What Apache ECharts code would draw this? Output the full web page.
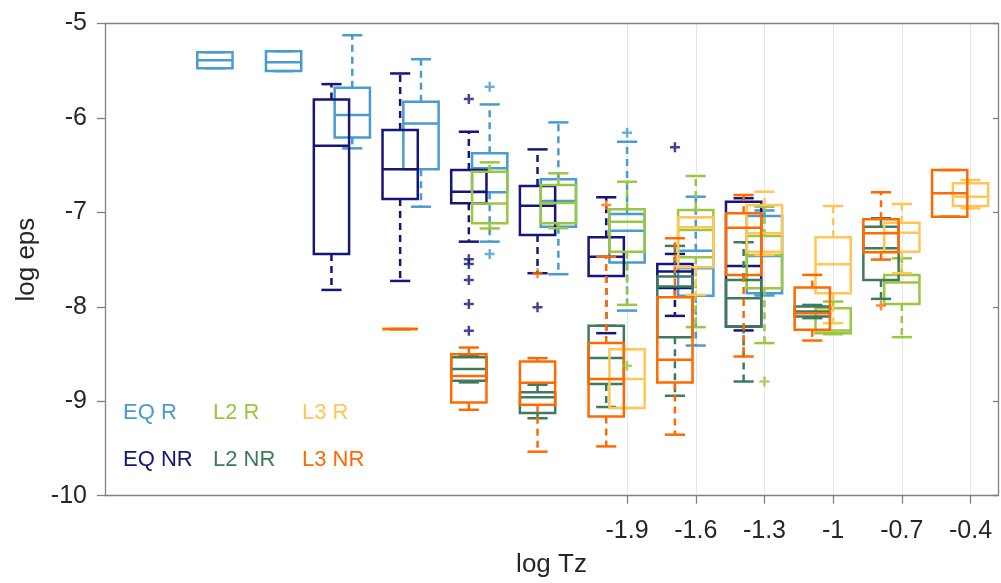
<!DOCTYPE html>
<html><head><meta charset="utf-8">
<script src="https://cdn.jsdelivr.net/npm/echarts@6/dist/echarts.min.js"></script>
<style>html,body{margin:0;padding:0;background:#fff}#c{width:1001px;height:583px}</style>
</head><body><div id="c"></div>
<script>
// log Tz bin centres (R boxes sit on these, NR boxes just left of them)
const logTz = [-3.7, -3.4, -3.1, -2.8, -2.5, -2.2, -1.9, -1.6, -1.3, -1.0, -0.7, -0.4];
const xTickLabels = [-1.9, -1.6, -1.3, -1, -0.7, -0.4];
const yTickLabels = [-10, -9, -8, -7, -6, -5];

// box statistics per bin: [low whisker, q1, median, q3, high whisker]
const eqR = [
  [-5.473, -5.473, -5.388, -5.304, -5.304],
  [-5.504, -5.504, -5.409, -5.293, -5.293],
  [-6.322, -6.206, -5.970, -5.681, -5.124],
  [-6.940, -6.544, -6.058, -5.829, -5.378],
  [-7.310, -6.787, -6.534, -6.375, -5.857],
  [-7.655, -7.151, -6.879, -6.650, -6.047],
  [-8.040, -7.532, -7.194, -7.017, -6.252],
  [-8.410, -7.884, -7.591, -7.405, -6.834],
  [-7.880, -7.856, -7.461, -7.038, -6.980],
  null, null, null
];
const eqNR = [
  null, null,
  [-7.821, -7.440, -6.295, -5.804, -5.642],
  [-7.726, -6.858, -6.544, -6.128, -5.529],
  [-7.310, -6.904, -6.781, -6.552, -6.146],
  [-7.644, -7.239, -6.929, -6.721, -6.333],
  [-8.279, -7.673, -7.469, -7.263, -6.840],
  [-8.096, -7.800, -7.627, -7.546, -7.440],
  [-8.250, -8.209, -7.567, -6.887, -6.850],
  null, null, null
];
const l2R = [
  null, null, null, null,
  [-7.170, -7.115, -6.906, -6.570, -6.470],
  [-7.168, -7.115, -6.900, -6.710, -6.586],
  [-7.979, -7.416, -7.098, -6.967, -6.675],
  [-8.215, -7.475, -7.186, -6.975, -6.615],
  [-8.384, -7.803, -7.450, -7.250, -6.940],
  [-8.290, -8.279, -8.250, -8.014, -7.944],
  [-8.321, -7.969, -7.743, -7.662, -7.486],
  null
];
const l2NR = [
  null, null, null, null,
  [-8.800, -8.783, -8.659, -8.535, -8.520],
  [-9.180, -9.125, -8.958, -8.905, -8.825],
  [-9.061, -8.818, -8.543, -8.201, -8.201],
  [-8.942, -8.321, -7.786, -7.680, -7.355],
  [-8.791, -8.209, -7.909, -7.715, -7.316],
  [-8.120, -8.103, -8.050, -7.997, -7.980],
  [-7.916, -7.715, -7.380, -7.151, -7.062],
  null
];
const l3R = [
  null, null, null, null, null, null,
  [-9.072, -9.072, -8.765, -8.448, -8.448],
  [-7.874, -7.581, -7.158, -7.052, -7.052],
  [-7.450, -7.416, -7.221, -6.922, -6.781],
  [-8.173, -7.856, -7.549, -7.263, -6.932],
  [-7.644, -7.416, -7.215, -7.109, -6.911],
  [-6.957, -6.932, -6.834, -6.692, -6.657]
];
const l3NR = [
  null, null, null,
  [-8.236, -8.236, -8.236, -8.236, -8.236],
  [-9.090, -9.013, -8.733, -8.501, -8.431],
  [-9.534, -9.037, -8.804, -8.579, -8.543],
  [-9.478, -9.161, -8.765, -8.384, -7.469],
  [-9.354, -8.801, -8.561, -7.898, -7.274],
  [-8.526, -7.662, -7.162, -7.009, -6.816],
  [-8.357, -8.244, -8.067, -7.796, -7.662],
  [-7.500, -7.422, -7.221, -7.073, -6.787],
  [-7.045, -7.045, -6.798, -6.552, -6.552]
];

// outliers: [log Tz bin, log eps]
const eqROut = [[-2.5, -5.671], [-2.5, -7.440], [-1.9, -6.157]];
const eqNROut = [[-2.5, -5.800], [-2.5, -7.496], [-2.5, -7.546], [-2.5, -7.715], [-2.5, -7.969], [-2.5, -8.254], [-2.2, -8.004], [-1.6, -6.311]];
const l2ROut = [[-1.9, -8.625], [-1.3, -8.791]];
const l2NROut = [];
const l3ROut = [];
const l3NROut = [[-2.2, -7.644], [-1.9, -6.922], [-0.7, -7.987]];

const FONT = '"Liberation Sans", Arial, Helvetica, sans-serif';
const TEXT = '#262626';
const AXIS = '#808080';
const BOX_HALF = 0.077, CAP_HALF = 0.044, NR_SHIFT = -0.091, LW = 2.5;
const PLUS = 'path://M3,0H5V3H8V5H5V8H3V5H0V3H3Z';

const groups = [
  {name: 'EQ R',  stats: eqR,  out: eqROut,  color: '#4a9bcf', shift: 0},
  {name: 'EQ NR', stats: eqNR, out: eqNROut, color: '#15157a', shift: NR_SHIFT},
  {name: 'L2 R',  stats: l2R,  out: l2ROut,  color: '#9bc63f', shift: 0},
  {name: 'L2 NR', stats: l2NR, out: l2NROut, color: '#407a5c', shift: NR_SHIFT},
  {name: 'L3 R',  stats: l3R,  out: l3ROut,  color: '#ffc657', shift: 0},
  {name: 'L3 NR', stats: l3NR, out: l3NROut, color: '#ff6a00', shift: NR_SHIFT}
];

function renderBox(color) {
  return function (params, api) {
    const x = api.value(0);
    const lo = api.value(1), q1 = api.value(2), md = api.value(3), q3 = api.value(4), hi = api.value(5);
    const xl = api.coord([x - BOX_HALF, md])[0];
    const xr = api.coord([x + BOX_HALF, md])[0];
    const xc = api.coord([x, md])[0];
    const cl = api.coord([x - CAP_HALF, md])[0];
    const cr = api.coord([x + CAP_HALF, md])[0];
    const y = v => api.coord([x, v])[1];
    const yLo = y(lo), yQ1 = y(q1), yMd = y(md), yQ3 = y(q3), yHi = y(hi);
    const solid = {stroke: color, lineWidth: LW};
    const dashed = {stroke: color, lineWidth: LW, lineDash: [7, 5]};
    const ch = [];
    if (yHi < yQ3 - 0.5) ch.push({type: 'line', shape: {x1: xc, y1: yQ3, x2: xc, y2: yHi}, style: dashed});
    if (yLo > yQ1 + 0.5) ch.push({type: 'line', shape: {x1: xc, y1: yQ1, x2: xc, y2: yLo}, style: dashed});
    ch.push({type: 'line', shape: {x1: cl, y1: yHi, x2: cr, y2: yHi}, style: solid});
    ch.push({type: 'line', shape: {x1: cl, y1: yLo, x2: cr, y2: yLo}, style: solid});
    ch.push({type: 'rect', shape: {x: xl, y: yQ3, width: xr - xl, height: Math.max(yQ1 - yQ3, 0)},
             style: {stroke: color, lineWidth: LW, fill: 'none'}});
    ch.push({type: 'line', shape: {x1: xl, y1: yMd, x2: xr, y2: yMd}, style: solid});
    return {type: 'group', children: ch};
  };
}

const series = [];
groups.forEach(g => {
  const data = [];
  logTz.forEach((t, i) => { if (g.stats[i]) data.push([t + g.shift].concat(g.stats[i])); });
  series.push({
    type: 'custom', name: g.name, renderItem: renderBox(g.color),
    itemStyle: {color: g.color}, encode: {x: 0, y: [1, 2, 3, 4, 5]},
    data: data, clip: false, silent: true
  });
  if (g.out.length) {
    series.push({
      type: 'scatter', name: g.name, symbol: PLUS, symbolSize: 10,
      itemStyle: {color: g.color}, silent: true,
      data: g.out.map(o => [o[0] + g.shift, o[1]])
    });
  }
});

function legendCol(left, a, b) {
  return {
    orient: 'vertical', left: left, top: 402, itemWidth: 0, itemHeight: 22, itemGap: 24.7,
    icon: 'none', selectedMode: false, padding: 0,
    textStyle: {fontSize: 22, fontFamily: FONT},
    data: [a, b].map(g => ({name: g.name, icon: 'none', textStyle: {color: g.color, fontSize: 22, fontFamily: FONT}}))
  };
}

const chart = echarts.init(document.getElementById('c'), null, {renderer: 'canvas'});
chart.setOption({
  animation: false,
  backgroundColor: '#fff',
  grid: {left: 105, right: 3, top: 23.5, bottom: 87.3, containLabel: false},
  legend: [
    legendCol(118, groups[0], groups[1]),
    legendCol(208, groups[2], groups[3]),
    legendCol(297, groups[4], groups[5])
  ],
  xAxis: [{
    type: 'value', min: -4.18, max: -0.28, position: 'bottom',
    name: 'log Tz', nameLocation: 'middle', nameGap: 56,
    nameTextStyle: {fontSize: 26, color: TEXT, fontFamily: FONT},
    axisLine: {show: true, onZero: false, lineStyle: {color: AXIS, width: 1.3}},
    axisTick: {show: true, inside: false, length: 8, customValues: xTickLabels, lineStyle: {color: AXIS, width: 1.3}},
    axisLabel: {show: true, customValues: xTickLabels, margin: 23, fontSize: 25, color: TEXT, fontFamily: FONT,
                formatter: v => String(v)},
    splitLine: {show: true, lineStyle: {color: '#e6e6e6', width: 1}}
  }, {
    type: 'value', min: -4.18, max: -0.28, position: 'top',
    axisLine: {show: true, onZero: false, lineStyle: {color: AXIS, width: 1.3}},
    axisTick: {show: false}, axisLabel: {show: false}, splitLine: {show: false}
  }],
  yAxis: [{
    type: 'value', min: -10, max: -5, interval: 1, position: 'left',
    name: 'log eps', nameLocation: 'middle', nameGap: 64,
    nameTextStyle: {fontSize: 26, color: TEXT, fontFamily: FONT},
    axisLine: {show: true, onZero: false, lineStyle: {color: AXIS, width: 1.3}},
    axisTick: {show: true, inside: false, length: 8, lineStyle: {color: AXIS, width: 1.3}},
    axisLabel: {show: true, margin: 18, fontSize: 25, color: TEXT, fontFamily: FONT,
                formatter: v => yTickLabels.indexOf(v) >= 0 ? String(v) : ''},
    splitLine: {show: false}
  }, {
    type: 'value', min: -10, max: -5, interval: 1, position: 'right',
    axisLine: {show: true, onZero: false, lineStyle: {color: AXIS, width: 1.3}},
    axisTick: {show: true, inside: true, length: 5, lineStyle: {color: AXIS, width: 1.3}},
    axisLabel: {show: false}, splitLine: {show: false}
  }],
  series: series
});
</script>
</body></html>
